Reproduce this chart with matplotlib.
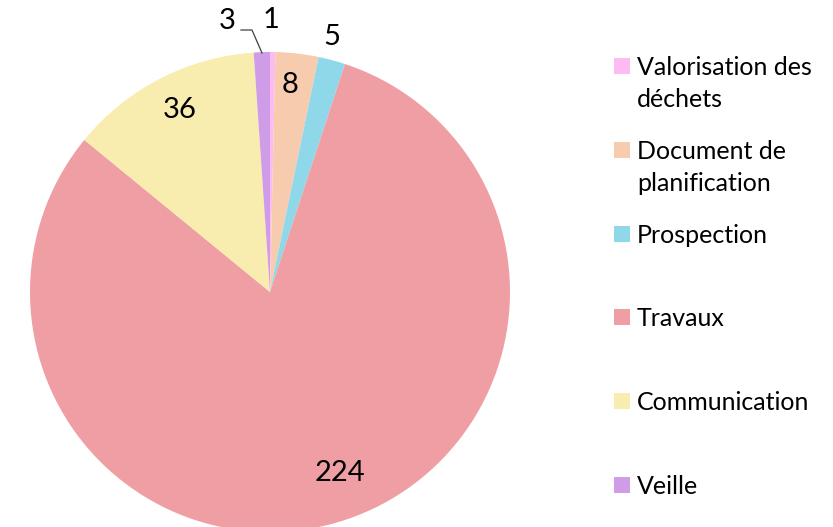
import matplotlib
matplotlib.use("Agg")
import matplotlib.pyplot as plt
from matplotlib.patches import Rectangle

categories = ["Valorisation des\ndéchets", "Document de\nplanification", "Prospection",
              "Travaux", "Communication", "Veille"]
values = [1, 8, 5, 224, 36, 3]
colors = ["#FDBCF1", "#F7CBAD", "#8ED8EA", "#EF9FA3", "#F8ECAE", "#CF9DE8"]

W, H = 833, 527
fig = plt.figure(figsize=(W / 100, H / 100), dpi=100)
plt.rcParams['font.family'] = ['Lato', 'DejaVu Sans']

cx, cy, R = 270, 292, 240
ax = fig.add_axes([(cx - R) / W, (H - cy - R) / H, 2 * R / W, 2 * R / H])
wedges, _ = ax.pie(values, colors=colors, startangle=90, counterclock=False,
                   radius=1, wedgeprops=dict(linewidth=0), frame=False)
ax.set_xlim(-1, 1)
ax.set_ylim(-1, 1)
ax.set_aspect('equal')
ax.axis('off')

def px(x, y):
    return ((x - cx) / R, (cy - y) / R)

label_pos = [(271, 20), (290, 85), (332, 37), (340, 473), (180, 110), (227, 21)]
for v, (x, y) in zip(values, label_pos):
    dx, dy = px(x, y)
    ax.text(dx, dy, str(v), ha='center', va='center', fontsize=21, color='#000000',
            clip_on=False)

# leader line for "3"
pts = [px(241, 30), px(252, 30), px(262, 53)]
ax.plot([p[0] for p in pts], [p[1] for p in pts], color='#404040', lw=0.9, clip_on=False)

# legend
for i, (lab, col) in enumerate(zip(categories, colors)):
    top = 58 + 83.8 * i
    fig.add_artist(Rectangle((614 / W, (H - top - 16) / H), 16 / W, 16 / H,
                             transform=fig.transFigure, facecolor=col, edgecolor='none'))
    for j, line in enumerate(lab.split("\n")):
        base = top + 17 + 32 * j
        fig.text(637 / W, (H - base) / H, line, ha='left', va='baseline', fontsize=18,
                 color='#000000')

fig.savefig("out.png", dpi=100)
